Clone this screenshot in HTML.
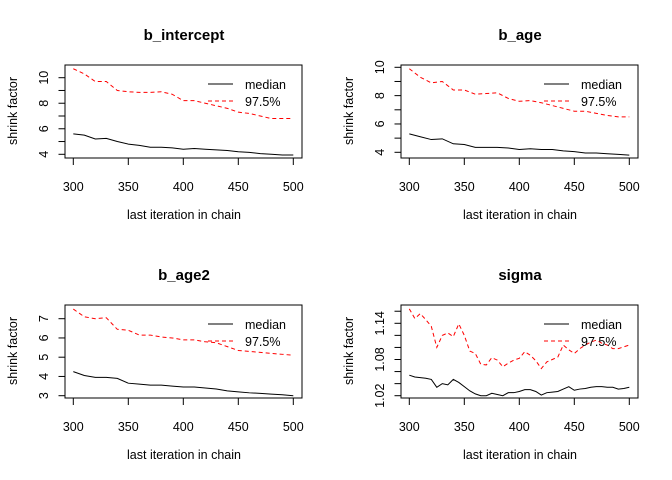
<!DOCTYPE html>
<html><head><meta charset="utf-8"><style>
body{margin:0;background:#fff}
svg{display:block;font-family:"Liberation Sans",Arial,sans-serif}
</style></head><body>
<svg id="c" width="672" height="480" xmlns="http://www.w3.org/2000/svg"></svg>
<script>
const iterations21 = [300,310,320,330,340,350,360,370,380,390,400,410,420,430,440,450,460,470,480,490,500];
const iterations41 = [300,305,310,315,320,325,330,335,340,345,350,355,360,365,370,375,380,385,390,395,400,405,410,415,420,425,430,435,440,445,450,455,460,465,470,475,480,485,490,495,500];
const interceptMedian = [5.6,5.5,5.2,5.25,5.0,4.8,4.7,4.55,4.55,4.5,4.4,4.45,4.4,4.35,4.3,4.2,4.15,4.05,4.0,3.95,3.95];
const interceptUpper = [10.7,10.3,9.7,9.7,9.0,8.9,8.85,8.85,8.9,8.7,8.2,8.2,8.0,7.8,7.6,7.3,7.2,7.0,6.8,6.8,6.8];
const ageMedian = [5.3,5.1,4.9,4.95,4.6,4.55,4.35,4.35,4.35,4.3,4.2,4.25,4.2,4.2,4.1,4.05,3.95,3.95,3.9,3.85,3.8];
const ageUpper = [9.9,9.3,8.9,9.0,8.4,8.4,8.1,8.15,8.2,7.8,7.6,7.65,7.5,7.3,7.1,6.9,6.9,6.75,6.6,6.5,6.5];
const age2Median = [4.25,4.05,3.95,3.95,3.9,3.65,3.6,3.55,3.55,3.5,3.45,3.45,3.4,3.35,3.25,3.2,3.15,3.12,3.08,3.05,3.0];
const age2Upper = [7.5,7.1,7.0,7.05,6.45,6.4,6.15,6.15,6.05,6.0,5.9,5.9,5.8,5.75,5.55,5.35,5.3,5.25,5.2,5.15,5.1];
const sigmaMedian = [1.054,1.051,1.050,1.049,1.047,1.034,1.040,1.038,1.047,1.042,1.035,1.028,1.023,1.020,1.020,1.024,1.022,1.020,1.025,1.025,1.027,1.030,1.030,1.027,1.021,1.025,1.026,1.027,1.031,1.035,1.029,1.031,1.032,1.034,1.035,1.035,1.034,1.034,1.031,1.032,1.034];
const sigmaUpper = [1.164,1.148,1.156,1.146,1.135,1.100,1.120,1.124,1.118,1.139,1.120,1.094,1.090,1.072,1.071,1.083,1.079,1.068,1.074,1.079,1.082,1.093,1.087,1.078,1.065,1.076,1.080,1.084,1.104,1.096,1.090,1.098,1.104,1.109,1.112,1.107,1.104,1.098,1.098,1.101,1.104];
const xTicks = [300,350,400,450,500];
const interceptTicks = [4,5,6,7,8,9,10], interceptLabels = ["4","","6","","8","","10"];
const ageTicks = [4,5,6,7,8,9,10], ageLabels = ["4","","6","","8","","10"];
const age2Ticks = [3,4,5,6,7], age2Labels = ["3","4","5","6","7"];
const sigmaTicks = [1.02,1.04,1.06,1.08,1.10,1.12,1.14,1.16], sigmaLabels = ["1.02","","","1.08","","","1.14",""];

const NS="http://www.w3.org/2000/svg", svg=document.getElementById('c');
function mk(tag,attrs,parent,text){const e=document.createElementNS(NS,tag);for(const k in attrs)e.setAttribute(k,attrs[k]);if(text!==undefined)e.textContent=text;(parent||svg).appendChild(e);return e;}

function panel(name,ox,oy,title,xs,med,upp,ticks,labels,v0,y0,v1,y1){
  const g=mk('g',{transform:`translate(${ox},${oy})`});
  
  
  const X=v=>73.3+(v-300)*1.1;
  const Y=v=>y0+(v-v0)*(y1-y0)/(v1-v0);
  const t=mk('text',{x:184,y:40,'text-anchor':'middle','font-size':'15','font-weight':'bold'},g,title);
  
  
  const box=mk('rect',{x:65,y:65,width:237,height:93,fill:'none',stroke:'#000','stroke-width':1},g);
  
  
  const xa=mk('g',{},g);
  
  
  xTicks.forEach(v=>{mk('line',{x1:X(v),x2:X(v),y1:158,y2:165,stroke:'#000'},xa);mk('text',{x:X(v),y:191,'text-anchor':'middle','font-size':'12.5'},xa,String(v));});
  const ya=mk('g',{},g);
  
  
  ticks.forEach((v,i)=>{const y=Y(v);mk('line',{x1:58.5,x2:65,y1:y,y2:y,stroke:'#000'},ya);
    if(labels[i])mk('text',{x:0,y:0,transform:`translate(48,${y}) rotate(-90)`,'text-anchor':'middle','font-size':'12.5'},ya,labels[i]);});
  const yl=mk('text',{x:0,y:0,transform:`translate(17,111) rotate(-90)`,'text-anchor':'middle','font-size':'12.5'},g,'shrink factor');
  
  
  const xl=mk('text',{x:184,y:219,'text-anchor':'middle','font-size':'12.5'},g,'last iteration in chain');
  
  
  const pm=mk('polyline',{points:xs.map((x,i)=>X(x)+','+Y(med[i])).join(' '),fill:'none',stroke:'#000','stroke-width':1},g);
  
  
  const pu=mk('polyline',{points:xs.map((x,i)=>X(x)+','+Y(upp[i])).join(' '),fill:'none',stroke:'#ff0000','stroke-width':1,'stroke-dasharray':'4,3'},g);
  
  
  const lg=mk('g',{},g);
  
  
  mk('line',{x1:208,x2:233,y1:84,y2:84,stroke:'#000'},lg);
  mk('text',{x:245,y:89,'font-size':'12.5'},lg,'median');
  mk('line',{x1:208,x2:233,y1:101,y2:101,stroke:'#ff0000','stroke-dasharray':'4,3'},lg);
  mk('text',{x:245,y:106,'font-size':'12.5'},lg,'97.5%');
}
panel('b-intercept',0,0,'b_intercept',iterations21,interceptMedian,interceptUpper,interceptTicks,interceptLabels,4,154.3,10,77.7);
panel('b-age',336,0,'b_age',iterations21,ageMedian,ageUpper,ageTicks,ageLabels,4,152.3,10,67.3);
panel('b-age2',0,240,'b_age2',iterations21,age2Median,age2Upper,age2Ticks,age2Labels,3,155.7,7,78.7);
panel('sigma',336,240,'sigma',iterations41,sigmaMedian,sigmaUpper,sigmaTicks,sigmaLabels,1.02,155.7,1.14,83.3);
</script>
</body></html>
